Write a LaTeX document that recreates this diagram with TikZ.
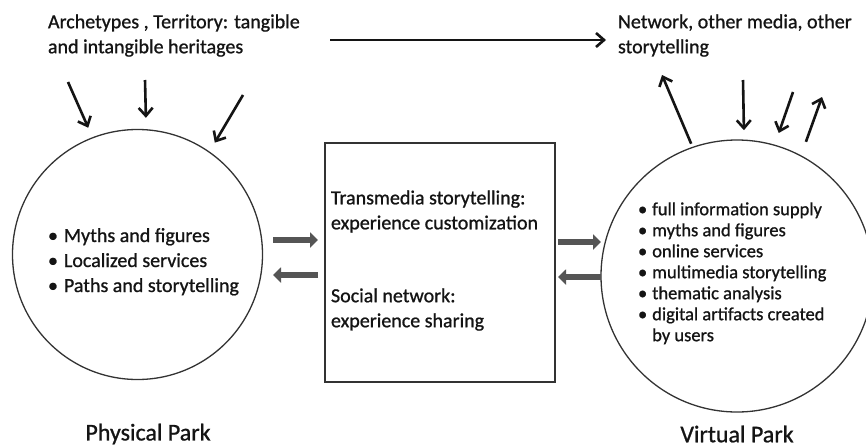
\documentclass[tikz,border=0pt]{standalone}
\usepackage{fontspec}
\setmainfont{Carlito}
\newfontfamily\semib{Carlito}[FakeBold=0.9]
\usetikzlibrary{arrows.meta}
\definecolor{txt}{HTML}{141414}
\definecolor{lin}{HTML}{333333}
\definecolor{fat}{HTML}{555555}
\begin{document}
\begin{tikzpicture}[x=1pt,y=-1pt,
  every node/.style={inner sep=0pt,outer sep=0pt,text=txt},
  park/.style={circle,draw=lin,line width=1.3pt},
  lbl/.style={anchor=west,align=left,font=\semib\fontsize{20}{25}\selectfont},
  thinarr/.style={draw=txt,line width=2.6pt,-{Straight Barb[length=8pt,width=14pt,line width=2.6pt]}},
  fatarr/.style={draw=fat,line width=6pt,-{Triangle[length=8pt,width=15pt]}},
  title/.style={font=\semib\fontsize{24}{28}\selectfont}]
\useasboundingbox (0,0) rectangle (866,447);
\fill[white] (0,0) rectangle (866,447);
% circles and box
\node[park,minimum size=250pt] (phys) at (137.5,254.5) {};
\node[park,minimum size=272pt] (virt) at (737,276) {};
\node[draw=lin,line width=1.4pt,minimum width=230pt,minimum height=239pt] (box) at (440,262.5) {};
% top texts
\node[lbl] (arch) at (48,35.5) {Archetypes , Territory: tangible\\and intangible heritages};
\node[lbl] (net) at (618,35.5) {Network, other media, other\\storytelling};
% box texts
\node[lbl] (trans) at (331,211.5) {Transmedia storytelling:\\experience customization};
\node[lbl] (social) at (331,309.5) {Social network:\\experience sharing};
% lists
\node[anchor=west,font=\semib\fontsize{20}{25}\selectfont] (plist) at (48,262)
  {\begin{tabular}{@{}l@{\hspace{6pt}}l@{}}
   • & Myths and figures\\
   • & Localized services\\
   • & Paths and storytelling
   \end{tabular}};
\node[anchor=west,font=\semib\fontsize{18.5}{21}\selectfont] (vlist) at (638,274)
  {\begin{tabular}{@{}l@{\hspace{5pt}}l@{}}
   • & full information supply\\
   • & myths and figures\\
   • & online services\\
   • & multimedia storytelling\\
   • & thematic analysis\\
   • & digital artifacts created\\
     & by users
   \end{tabular}};
% titles
\node[title] (ptitle) at (148,434) {Physical Park};
\node[title] (vtitle) at (737,434) {Virtual Park};
% coordinates
\coordinate (a1) at (68,82);
\coordinate (a2) at (145,80);
\coordinate (a3) at (243,95);
\coordinate (b1) at (662,75);
\coordinate (b2) at (743,80);
\coordinate (b3) at (793,92);
\coordinate (b4) at (822,97);
\coordinate (t1) at (330,40);
\coordinate (t2) at (606,40);
\coordinate (l1s) at (273,240); \coordinate (l1e) at (318,240);
\coordinate (l2s) at (318,275); \coordinate (l2e) at (273,275);
\coordinate (r1s) at (558,242); \coordinate (r1e) at (601,242);
\coordinate (r2s) at (601,277); \coordinate (r2e) at (558,277);
% thin arrows
\draw[thinarr] (t1) -- (t2);
\draw[thinarr,shorten >=11pt] (a1) -- (phys.111);
\draw[thinarr,shorten >=12pt] (a2) -- (phys.86);
\draw[thinarr,shorten >=11pt] (a3) -- (phys.55);
\draw[thinarr,shorten <=4pt] (virt.109) -- (b1);
\draw[thinarr,shorten >=10pt] (b2) -- (virt.87.5);
\draw[thinarr,shorten >=13pt] (b3) -- (virt.74);
\draw[thinarr,shorten <=15pt] (virt.62) -- (b4);
% fat arrows
\draw[fatarr] (l1s) -- (l1e);
\draw[fatarr] (l2s) -- (l2e);
\draw[fatarr] (r1s) -- (r1e);
\draw[fatarr] (r2s) -- (r2e);
\end{tikzpicture}
\end{document}
